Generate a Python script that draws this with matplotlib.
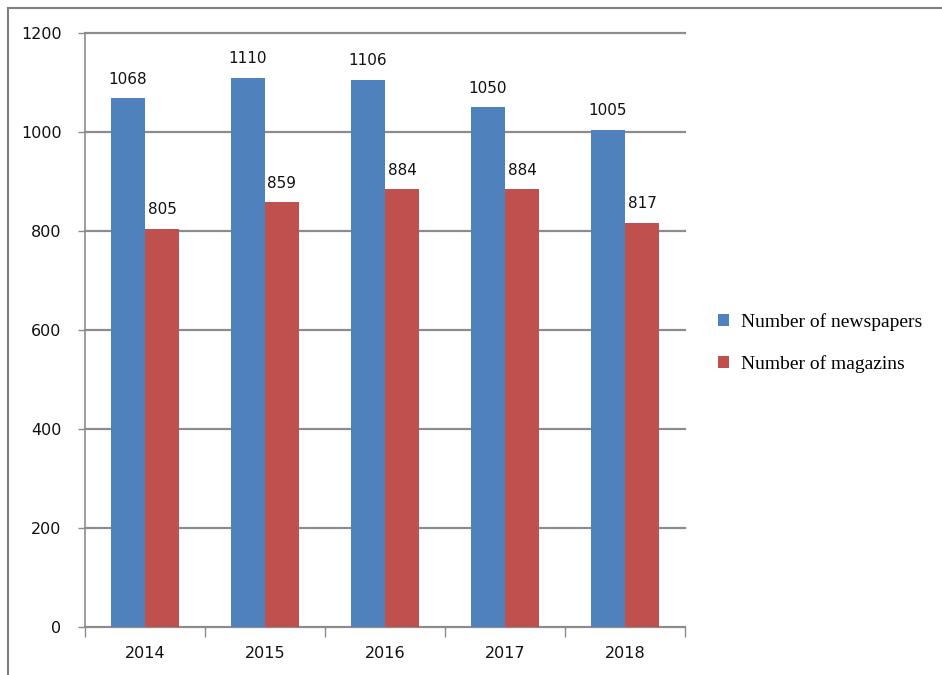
import numpy as np
import matplotlib.pyplot as plt
from matplotlib.lines import Line2D

# Data
years = ["2014", "2015", "2016", "2017", "2018"]
newspapers = [1068, 1110, 1106, 1050, 1005]
magazines = [805, 859, 884, 884, 817]
series_names = ["Number of newspapers", "Number of magazins"]

blue = "#4F81BD"
red = "#C0504D"
grid_color = "#8C8C8C"

fig = plt.figure(figsize=(9.42, 6.75), dpi=100)
ax = fig.add_axes([85 / 942, 1 - 627 / 675, 600 / 942, 594 / 675])

x = np.arange(len(years))
w = 0.283
b1 = ax.bar(x - w / 2, newspapers, w, color=blue, label=series_names[0], zorder=3)
b2 = ax.bar(x + w / 2, magazines, w, color=red, label=series_names[1], zorder=3)

# value labels above bars
for bars, vals in [(b1, newspapers), (b2, magazines)]:
    for rect, v in zip(bars, vals):
        ax.annotate(str(v), (rect.get_x() + rect.get_width() / 2, v),
                    xytext=(0, 8), textcoords="offset points",
                    ha="center", va="bottom", fontsize=11,
                    family="DejaVu Sans", color="#111111")

ax.set_xlim(-0.5, 4.5)
ax.set_ylim(0, 1200)
ax.set_yticks(range(0, 1201, 200))
ax.yaxis.grid(True, color=grid_color, linewidth=1.6, zorder=0)
ax.set_axisbelow(True)
for gl in ax.get_ygridlines():
    gl.set_clip_on(False)

# category labels centred, tick marks on category boundaries
ax.set_xticks(x)
ax.set_xticklabels(years)
ax.set_xticks(np.arange(-0.5, 5, 1), minor=True)
ax.tick_params(axis="x", which="major", length=0, pad=14)
ax.tick_params(axis="x", which="minor", length=7, width=1, color=grid_color, direction="out")
ax.tick_params(axis="y", length=5, width=1, color=grid_color, pad=12)
for lab in ax.get_xticklabels() + ax.get_yticklabels():
    lab.set_fontsize(11.5)
    lab.set_family("DejaVu Sans")
    lab.set_color("#111111")

for s in ["top", "right"]:
    ax.spines[s].set_visible(False)
for s in ["left", "bottom"]:
    ax.spines[s].set_color(grid_color)
    ax.spines[s].set_linewidth(1.2)

leg = fig.legend(handles=[b1, b2], labels=series_names,
                 loc="center left", bbox_to_anchor=(700 / 942, 1 - 343 / 675),
                 frameon=False, handlelength=0.6, handleheight=0.6,
                 handletextpad=0.6, labelspacing=1.25,
                 prop={"family": "Liberation Serif", "size": 14})

# outer frame (top and left edges only)
fig.add_artist(Line2D([8 / 942, 1], [1 - 8 / 675, 1 - 8 / 675],
                      transform=fig.transFigure, color="#808080", linewidth=1.5))
fig.add_artist(Line2D([8 / 942, 8 / 942], [0, 1 - 8 / 675],
                      transform=fig.transFigure, color="#808080", linewidth=1.5))

fig.savefig("out.png", dpi=100)
